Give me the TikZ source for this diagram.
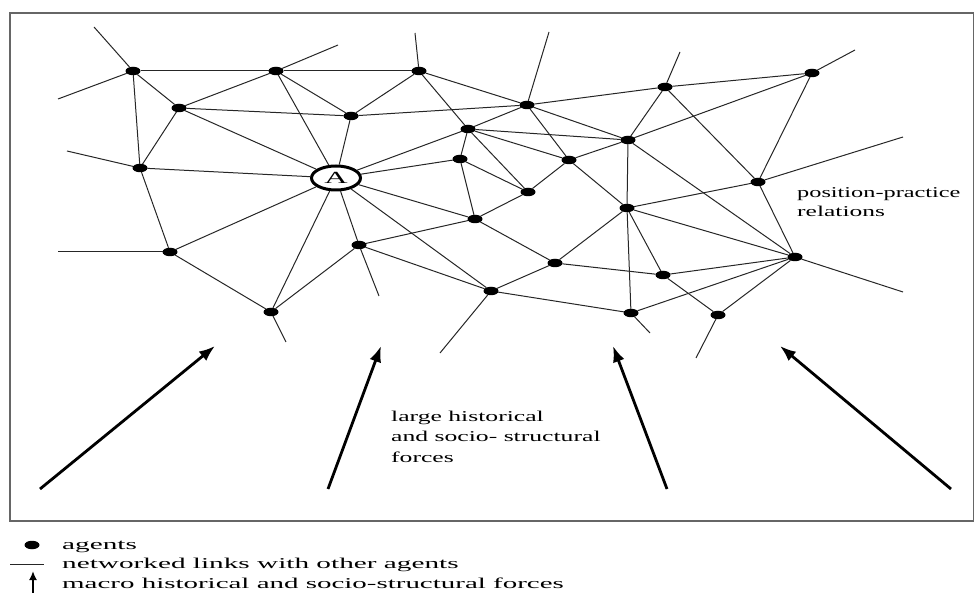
\documentclass[tikz,border=0pt]{standalone}
\usepackage{fontspec}
\setmainfont{Liberation Serif}
\usetikzlibrary{shapes.geometric,arrows.meta}
\newcommand{\sx}[2][1.71]{\scalebox{#1}[1]{#2}}
\tikzset{
  agent/.style={ellipse, fill=black, minimum width=15pt, minimum height=8.5pt, inner sep=0pt, outer sep=0pt},
  centre/.style={ellipse, draw=black, fill=white, line width=3pt, minimum width=49pt, minimum height=24pt, inner sep=0pt},
  link/.style={line width=1pt, black!85},
  force/.style={line width=2.8pt, -{Latex[length=16pt,width=12pt]}},
  label/.style={anchor=base west, inner sep=0pt, font=\fontsize{15}{20}\selectfont},
  frame/.style={line width=1.3pt, black!60}
}
\begin{document}
\begin{tikzpicture}[x=1pt,y=-1pt]
\useasboundingbox (0,0) rectangle (975,593);
\draw[frame] (10,13) rectangle (973.5,521);
% agents
\node[agent] (n1) at (133,71) {};
\node[agent] (n2) at (276,71) {};
\node[agent] (n3) at (179,108) {};
\node[agent] (n4) at (140,168) {};
\node[agent] (n5) at (170,252) {};
\node[agent] (n6) at (271,312) {};
\node[agent] (n7) at (419,71) {};
\node[agent] (n8) at (351,116) {};
\node[agent] (n9) at (527,105) {};
\node[agent] (n10) at (468,129) {};
\node[agent] (n11) at (460,159) {};
\node[agent] (n12) at (528,192) {};
\node[agent] (n13) at (475,219) {};
\node[agent] (n14) at (569,160) {};
\node[agent] (n15) at (628,140) {};
\node[agent] (n16) at (627,208) {};
\node[agent] (n17) at (631,313) {};
\node[agent] (n18) at (555,263) {};
\node[agent] (n19) at (491,291) {};
\node[agent] (n20) at (359,245) {};
\node[agent] (n21) at (665,87) {};
\node[agent] (n22) at (812,73) {};
\node[agent] (n23) at (758,182) {};
\node[agent] (n24) at (795,257) {};
\node[agent] (n25) at (663,275) {};
\node[agent] (n26) at (718,315) {};
\node[centre] (A) at (336,178) {\fontsize{17}{17}\selectfont\scalebox{1.9}[1]{A}};
% free ends
\coordinate (s1) at (94,27);
\coordinate (s2) at (58,99);
\coordinate (s3) at (338,45);
\coordinate (s4) at (67,151);
\coordinate (s5) at (58,252);
\coordinate (s6) at (286,342);
\coordinate (s7) at (415,33);
\coordinate (s8) at (549,32);
\coordinate (s9) at (379,296);
\coordinate (s10) at (440,353);
\coordinate (s11) at (650,333);
\coordinate (s12) at (696,358);
\coordinate (s13) at (680,52);
\coordinate (s14) at (855,50);
\coordinate (s15) at (903,137);
\coordinate (s16) at (903,292);
% links
\begin{scope}[link]
\draw (n1) -- (s1); \draw (n1) -- (s2); \draw (n2) -- (s3); \draw (n4) -- (s4);
\draw (n5) -- (s5); \draw (n6) -- (s6); \draw (n7) -- (s7); \draw (n9) -- (s8);
\draw (n20) -- (s9); \draw (n19) -- (s10); \draw (n17) -- (s11); \draw (n26) -- (s12);
\draw (n21) -- (s13); \draw (n22) -- (s14); \draw (n23) -- (s15); \draw (n24) -- (s16);
\draw (n1) -- (n2); \draw (n1) -- (n3); \draw (n1) -- (n4);
\draw (n2) -- (n7); \draw (n2) -- (n3); \draw (n2) -- (n8); \draw (n2) -- (A);
\draw (n3) -- (n8); \draw (n3) -- (n4); \draw (n3) -- (A);
\draw (n4) -- (A); \draw (n4) -- (n5);
\draw (n5) -- (A); \draw (n5) -- (n6);
\draw (n6) -- (A); \draw (n6) -- (n20);
\draw (n7) -- (n8); \draw (n7) -- (n9); \draw (n7) -- (n10);
\draw (n8) -- (n9); \draw (n8) -- (A);
\draw (n9) -- (n10); \draw (n9) -- (n21); \draw (n9) -- (n14); \draw (n9) -- (n15);
\draw (n10) -- (A); \draw (n10) -- (n11); \draw (n10) -- (n12); \draw (n10) -- (n14); \draw (n10) -- (n15);
\draw (n11) -- (A); \draw (n11) -- (n12); \draw (n11) -- (n13);
\draw (n12) -- (n14); \draw (n12) -- (n13);
\draw (n13) -- (A); \draw (n13) -- (n20); \draw (n13) -- (n18);
\draw (n14) -- (n15); \draw (n14) -- (n16);
\draw (n15) -- (n16); \draw (n15) -- (n21); \draw (n15) -- (n22); \draw (n15) -- (n24);
\draw (n16) -- (n17); \draw (n16) -- (n18); \draw (n16) -- (n23); \draw (n16) -- (n24); \draw (n16) -- (n25);
\draw (n17) -- (n19); \draw (n17) -- (n24);
\draw (n18) -- (n19); \draw (n18) -- (n25);
\draw (n19) -- (A); \draw (n19) -- (n20);
\draw (n20) -- (A);
\draw (n21) -- (n22); \draw (n21) -- (n23);
\draw (n22) -- (n23);
\draw (n23) -- (n24);
\draw (n24) -- (n25); \draw (n24) -- (n26);
\draw (n25) -- (n26);
\end{scope}
% forces
\coordinate (f1a) at (40,489);  \coordinate (f1b) at (215,346);
\coordinate (f2a) at (328,489); \coordinate (f2b) at (381,346);
\coordinate (f3a) at (667,489); \coordinate (f3b) at (613,346);
\coordinate (f4a) at (951,489); \coordinate (f4b) at (780,346);
\draw[force] (f1a) -- (f1b);
\draw[force] (f2a) -- (f2b);
\draw[force] (f3a) -- (f3b);
\draw[force] (f4a) -- (f4b);
% labels
\node[label] (pp1) at (797,198) {\sx[1.62]{position-practice}};
\node[label] (pp2) at (797,217) {\sx[1.7]{relations}};
\node[label] (lh1) at (391,422) {\sx{large historical}};
\node[label] (lh2) at (391,442) {\sx{and socio- structural}};
\node[label] (lh3) at (391,463) {\sx{forces}};
% legend
\node[agent] (kdot) at (32,545) {};
\coordinate (kl1) at (10,564); \coordinate (kl2) at (44,564);
\draw[link] (kl1) -- (kl2);
\coordinate (ka1) at (33,594); \coordinate (ka2) at (33,571);
\draw[line width=2.2pt, -{Latex[length=9pt,width=8pt]}] (ka1) -- (ka2);
\node[label] (k1) at (62,549) {\sx[1.95]{agents}};
\node[label] (k2) at (62,568) {\sx[1.95]{networked links with other agents}};
\node[label] (k3) at (62,588) {\sx[1.93]{macro historical and socio-structural forces}};
\end{tikzpicture}
\end{document}
